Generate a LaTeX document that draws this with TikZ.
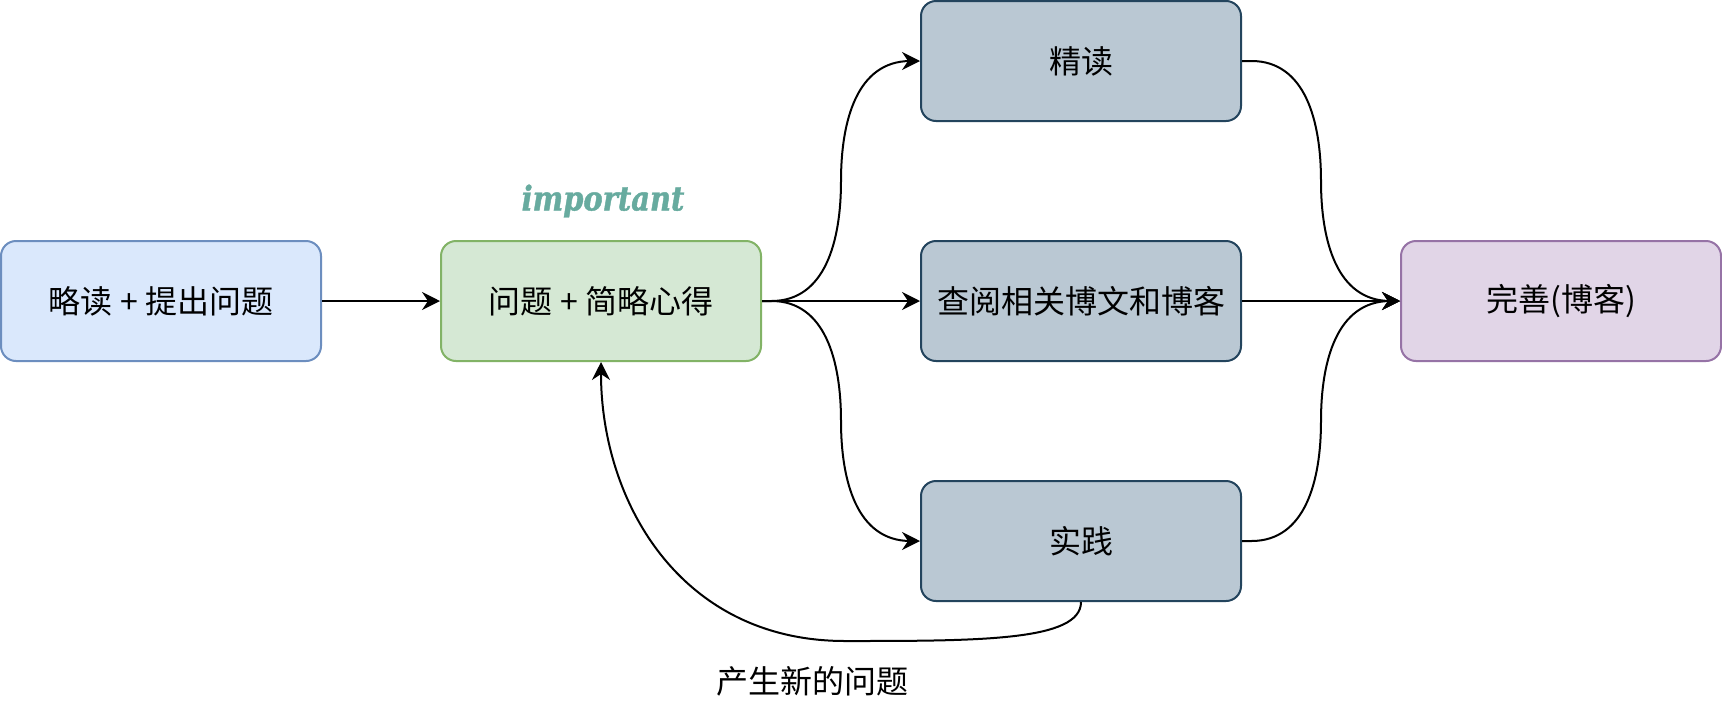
\documentclass[tikz,border=0pt]{standalone}
\usepackage{fontspec}
\setmainfont{Noto Sans CJK SC}
\newfontfamily\impfont[FakeStretch=0.85,FakeBold=1.2]{DejaVu Serif}
\usetikzlibrary{arrows.meta,calc}
\definecolor{blueF}{HTML}{DAE8FC}
\definecolor{blueD}{HTML}{6C8EBF}
\definecolor{greenF}{HTML}{D5E8D4}
\definecolor{greenD}{HTML}{82B366}
\definecolor{grayF}{HTML}{BAC8D3}
\definecolor{grayD}{HTML}{23445D}
\definecolor{purpF}{HTML}{E1D5E7}
\definecolor{purpD}{HTML}{9673A6}
\definecolor{impC}{HTML}{67AB9F}
\begin{document}
\begin{tikzpicture}[x=1pt,y=-1pt,
  box/.style={draw, rounded corners=15pt, line width=2pt, minimum width=320pt,
    minimum height=120pt, inner sep=0pt, text=black, font=\fontsize{32}{38}\selectfont},
  bluebox/.style={box, fill=blueF, draw=blueD},
  greenbox/.style={box, fill=greenF, draw=greenD},
  graybox/.style={box, fill=grayF, draw=grayD},
  purpbox/.style={box, fill=purpF, draw=purpD},
  conn/.style={line width=2pt, -{Stealth[length=18pt,width=18pt,inset=6pt]}},
  curv/.style={to path={let \p1=(\tikztostart), \p2=(\tikztotarget) in
    -- ({0.94*\x1+0.06*\x2},\y1)
    .. controls ({0.6*\x1+0.4*\x2},\y1) and ({0.5*\x1+0.5*\x2},{0.75*\y1+0.25*\y2})
    .. ({0.5*\x1+0.5*\x2},{0.5*\y1+0.5*\y2})
    .. controls ({0.5*\x1+0.5*\x2},{0.25*\y1+0.75*\y2}) and ({0.4*\x1+0.6*\x2},\y2)
    .. ({0.06*\x1+0.94*\x2},\y2) -- (\p2)}},
  lbl/.style={text=black, inner sep=0pt, font=\fontsize{32}{38}\selectfont},
  implbl/.style={text=impC, inner sep=0pt, font=\impfont\bfseries\itshape\fontsize{34}{40}\selectfont}
]
\useasboundingbox (0,0) rectangle (1722,702);
\fill[white] (0,0) rectangle (1722,702);

\node[bluebox]  (a)  at (161,301)  {略读 + 提出问题};
\node[greenbox] (b)  at (601,301)  {问题 + 简略心得};
\node[graybox]  (c1) at (1081,61)  {精读};
\node[graybox]  (c2) at (1081,301) {查阅相关博文和博客};
\node[graybox]  (c3) at (1081,541) {实践};
\node[purpbox]  (d)  at (1561,301) {完善(博客)};
\node[implbl]   (imp) at (603,201) {important};
\node[lbl]      (new) at (812,681) {产生新的问题};

\draw[conn] (a.east) -- (b.west);
\draw[conn] (b.east) -- (c2.west);
\draw[conn] (c2.east) -- (d.west);
\draw[conn] (b.east) to[curv] (c1.west);
\draw[conn] (b.east) to[curv] (c3.west);
\draw[conn] (c1.east) to[curv] (d.west);
\draw[conn] (c3.east) to[curv] (d.west);
\draw[conn] (c3.south) .. controls ($(c3.south)+(0,39)$) and (980,641) .. (845,641)
  .. controls (680,641) and ($(b.south)+(0,139)$) .. (b.south);
\end{tikzpicture}
\end{document}
